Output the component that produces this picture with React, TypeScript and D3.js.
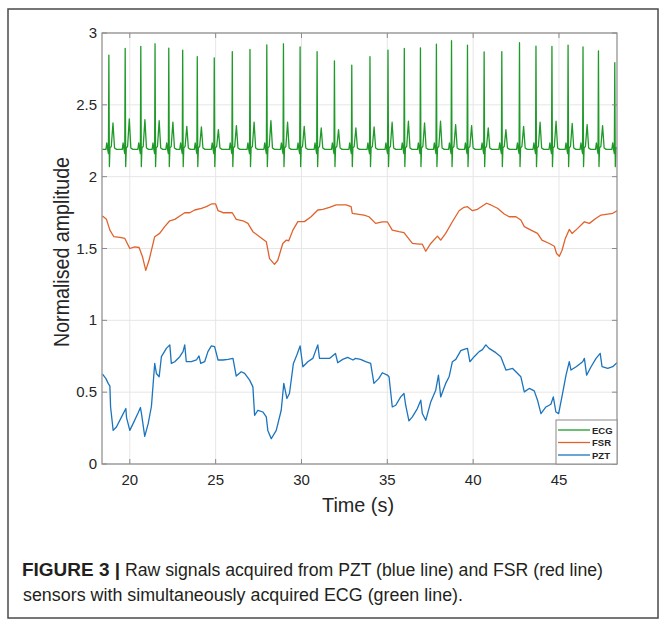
import React from "react";
import * as d3 from "d3";

// ---------- DATA ----------
const xTicks = [20, 25, 30, 35, 40, 45];
const yTicks = [0, 0.5, 1, 1.5, 2, 2.5, 3];
const yTickLabels = ["0", "0.5", "1", "1.5", "2", "2.5", "3"];

// ECG: beat (R-peak) times, R-peak amplitudes and T-wave amplitudes
const ecgBeatTimes = [18.78, 19.73, 20.64, 21.47, 22.27, 23.08, 23.93, 24.92, 25.97, 27.0, 27.98, 28.95, 29.92, 30.91, 31.92, 32.93,
  33.99, 35.04, 35.99, 36.93, 37.86, 38.74, 39.67, 40.64, 41.67, 42.7, 43.66, 44.59, 45.53, 46.4, 47.3, 48.25];
const ecgRPeaks = [2.846, 2.893, 2.907, 2.925, 2.895, 2.881, 2.836, 2.827, 2.871, 2.886, 2.918, 2.925, 2.904, 2.871, 2.806, 2.776,
  2.836, 2.881, 2.893, 2.897, 2.923, 2.946, 2.916, 2.869, 2.871, 2.932, 2.909, 2.907, 2.916, 2.904, 2.876, 2.794];
const ecgTWaves = [2.374, 2.402, 2.397, 2.39, 2.38, 2.35, 2.346, 2.327, 2.355, 2.38, 2.39, 2.379, 2.35, 2.339, 2.327, 2.339,
  2.346, 2.379, 2.386, 2.374, 2.386, 2.362, 2.355, 2.339, 2.327, 2.35, 2.379, 2.386, 2.37, 2.362, 2.355, 2.346];
// beat morphology (time offset from R, amplitude); null = take R / T values
const ecgShapeDt = [-0.17, -0.12, -0.07, -0.025, 0, 0.03, 0.065, 0.14, 0.24, 0.33, 0.45];
const ecgShapeV: (number | null)[] = [2.19, 2.235, 2.19, 2.16, null, 2.07, 2.2, 2.21, null, 2.2, 2.19];
const ecgStart = [18.4, 2.19];
const ecgEnd = [48.4, 2.2];

const fsrT = [18.41, 18.64, 18.84, 19.07, 19.42, 19.71, 20.0, 20.29, 20.54, 20.74, 20.93, 21.12, 21.45, 21.74, 22.03, 22.33, 22.62, 22.91,
  23.2, 23.49, 23.78, 24.17, 24.46, 24.75, 25.0, 25.14, 25.43, 25.72, 25.97, 26.2, 26.59, 26.88, 27.17, 27.56, 27.95, 28.14, 28.43, 28.62,
  28.91, 29.11, 29.26, 29.5, 29.79, 30.17, 30.56, 30.95, 31.24, 31.63, 32.02, 32.6, 32.89, 32.96, 33.25, 33.64, 33.93, 34.32, 34.71, 35.0,
  35.29, 35.68, 35.97, 36.46, 36.85, 37.04, 37.24, 37.53, 37.92, 38.11, 38.4, 38.79, 39.18, 39.47, 39.67, 39.96, 40.25, 40.54, 40.78, 41.03,
  41.42, 41.81, 42.1, 42.49, 42.78, 42.98, 43.37, 43.75, 44.01, 44.44, 44.73, 44.86, 45.02, 45.18, 45.37, 45.6, 45.76, 46.09, 46.48, 46.77,
  47.16, 47.45, 47.84, 48.13, 48.38];
const fsrV = [1.726, 1.703, 1.628, 1.582, 1.577, 1.57, 1.5, 1.512, 1.507, 1.442, 1.348, 1.418, 1.582, 1.605, 1.652, 1.693, 1.703, 1.726,
  1.749, 1.749, 1.768, 1.78, 1.791, 1.81, 1.81, 1.763, 1.749, 1.749, 1.749, 1.703, 1.693, 1.675, 1.617, 1.582, 1.547, 1.43, 1.39, 1.418,
  1.535, 1.558, 1.554, 1.628, 1.687, 1.687, 1.721, 1.768, 1.773, 1.787, 1.803, 1.803, 1.791, 1.745, 1.74, 1.733, 1.721, 1.675, 1.686, 1.686,
  1.628, 1.617, 1.61, 1.535, 1.53, 1.53, 1.481, 1.535, 1.586, 1.558, 1.605, 1.686, 1.763, 1.787, 1.791, 1.763, 1.773, 1.796, 1.815, 1.803,
  1.78, 1.74, 1.721, 1.721, 1.698, 1.652, 1.628, 1.605, 1.558, 1.535, 1.516, 1.465, 1.446, 1.488, 1.57, 1.633, 1.605, 1.64, 1.686, 1.675,
  1.71, 1.733, 1.74, 1.745, 1.763];

const pztT = [18.41, 18.6, 18.74, 18.84, 18.88, 19.03, 19.22, 19.52, 19.77, 19.81, 20.0, 20.19, 20.48, 20.62, 20.68, 20.87, 21.07, 21.26,
  21.45, 21.55, 21.71, 21.84, 22.13, 22.33, 22.42, 22.62, 22.91, 23.1, 23.2, 23.29, 23.59, 23.88, 24.03, 24.13, 24.36, 24.55, 24.75, 24.94,
  25.14, 25.43, 25.72, 26.01, 26.2, 26.49, 26.69, 26.98, 27.17, 27.27, 27.46, 27.75, 27.95, 28.04, 28.24, 28.53, 28.82, 28.97, 29.15, 29.3,
  29.53, 29.73, 29.92, 30.08, 30.37, 30.66, 30.95, 31.05, 31.34, 31.63, 31.98, 32.11, 32.4, 32.69, 33.0, 33.15, 33.44, 33.74, 34.03, 34.22,
  34.51, 34.71, 35.0, 35.1, 35.29, 35.49, 35.78, 35.97, 36.07, 36.26, 36.46, 36.75, 36.95, 37.04, 37.24, 37.53, 37.82, 37.98, 38.11, 38.4,
  38.6, 38.79, 38.99, 39.28, 39.47, 39.67, 39.81, 40.06, 40.35, 40.54, 40.74, 40.93, 41.32, 41.61, 41.91, 42.3, 42.49, 42.78, 42.98, 43.27,
  43.56, 43.75, 43.95, 44.24, 44.53, 44.67, 44.82, 44.98, 45.21, 45.41, 45.6, 45.7, 46.0, 46.38, 46.48, 46.61, 46.87, 47.16, 47.4, 47.51,
  47.84, 48.13, 48.38];
const pztV = [0.626, 0.596, 0.561, 0.542, 0.397, 0.234, 0.258, 0.328, 0.386, 0.323, 0.234, 0.281, 0.355, 0.393, 0.351, 0.192, 0.281, 0.402,
  0.7, 0.63, 0.607, 0.747, 0.805, 0.829, 0.7, 0.712, 0.747, 0.782, 0.829, 0.712, 0.712, 0.724, 0.752, 0.7, 0.712, 0.782, 0.822, 0.817,
  0.724, 0.724, 0.728, 0.735, 0.612, 0.642, 0.631, 0.584, 0.537, 0.339, 0.374, 0.362, 0.328, 0.234, 0.176, 0.234, 0.374, 0.561, 0.456, 0.491,
  0.7, 0.759, 0.822, 0.677, 0.712, 0.735, 0.829, 0.735, 0.735, 0.735, 0.77, 0.705, 0.728, 0.742, 0.724, 0.735, 0.728, 0.712, 0.7, 0.561,
  0.596, 0.635, 0.619, 0.607, 0.397, 0.409, 0.467, 0.491, 0.409, 0.3, 0.328, 0.386, 0.444, 0.351, 0.304, 0.432, 0.514, 0.619, 0.467, 0.561,
  0.607, 0.712, 0.728, 0.789, 0.798, 0.805, 0.712, 0.747, 0.782, 0.796, 0.829, 0.805, 0.775, 0.747, 0.654, 0.665, 0.642, 0.607, 0.502, 0.526,
  0.509, 0.444, 0.351, 0.397, 0.416, 0.467, 0.362, 0.351, 0.491, 0.619, 0.712, 0.654, 0.677, 0.712, 0.735, 0.619, 0.677, 0.735, 0.77, 0.677,
  0.665, 0.677, 0.705];

const legendItems = ["ECG", "FSR", "PZT"];
const seriesColors = ["#1f9a29", "#e0622c", "#1b74bd"];

// ---------- LAYOUT ----------
const W = 659, H = 621;
const M = { left: 102, right: 617, top: 33, bottom: 464 };
const FONT = "'Liberation Sans', Arial, Helvetica, sans-serif";

export default function App() {
  const x = d3.scaleLinear().domain([18.38, 48.38]).range([M.left, M.right]);
  const y = d3.scaleLinear().domain([0, 3]).range([M.bottom, M.top]);
  const line = d3.line<[number, number]>().x((d) => x(d[0])).y((d) => y(d[1]));

  const ecgPts: [number, number][] = [[ecgStart[0], ecgStart[1]]];
  ecgBeatTimes.forEach((tb, i) => {
    ecgShapeDt.forEach((dt, k) => {
      const t = tb + dt;
      if (t < x.domain()[0] || t > x.domain()[1]) return;
      let v = ecgShapeV[k];
      if (v === null) v = k === 4 ? ecgRPeaks[i] : ecgTWaves[i];
      ecgPts.push([t, v as number]);
    });
  });
  ecgPts.push([ecgEnd[0], ecgEnd[1]]);
  const fsrPts: [number, number][] = fsrT.map((t, i) => [t, fsrV[i]]);
  const pztPts: [number, number][] = pztT.map((t, i) => [t, pztV[i]]);
  const paths = [ecgPts, fsrPts, pztPts];

  const axisColor = "#8a8a8a";
  const lg = { x0: 556, y0: 420, x1: M.right, y1: M.bottom };

  return (
    <svg width={W} height={H} style={{ position: "absolute", left: 0, top: 0, background: "#fff" }} fontFamily={FONT}>
      <rect x={0} y={0} width={W} height={H} fill="#fff" />
      {/* outer frame */}
      <rect x={8} y={9} width={650} height={609} fill="none" stroke="#4a4a4a" strokeWidth={1.5} />
      <defs>
        <clipPath id="plotclip">
          <rect x={M.left} y={M.top} width={M.right - M.left} height={M.bottom - M.top} />
        </clipPath>
      </defs>
      {/* grid */}
      {xTicks.map((t) => (
        <line key={"gx" + t} x1={x(t)} x2={x(t)} y1={M.top} y2={M.bottom} stroke="#e6e6e6" strokeWidth={1} />
      ))}
      {yTicks.map((t) => (
        <line key={"gy" + t} x1={M.left} x2={M.right} y1={y(t)} y2={y(t)} stroke="#e6e6e6" strokeWidth={1} />
      ))}
      {/* series */}
      <g clipPath="url(#plotclip)">
        {paths.map((p, i) => (
          <path key={i} d={line(p) || ""} fill="none" stroke={seriesColors[i]} strokeWidth={1.3} strokeLinejoin="round" />
        ))}
      </g>
      {/* axes box */}
      <rect x={M.left} y={M.top} width={M.right - M.left} height={M.bottom - M.top} fill="none" stroke={axisColor} strokeWidth={1.2} />
      {xTicks.map((t) => (
        <g key={"tx" + t}>
          <line x1={x(t)} x2={x(t)} y1={M.bottom} y2={M.bottom - 5} stroke={axisColor} />
          <line x1={x(t)} x2={x(t)} y1={M.top} y2={M.top + 5} stroke={axisColor} />
          <text x={x(t)} y={485} textAnchor="middle" fontSize={15} fill="#262626">{t}</text>
        </g>
      ))}
      {yTicks.map((t, i) => (
        <g key={"ty" + t}>
          <line x1={M.left} x2={M.left + 5} y1={y(t)} y2={y(t)} stroke={axisColor} />
          <line x1={M.right} x2={M.right - 5} y1={y(t)} y2={y(t)} stroke={axisColor} />
          <text x={97} y={y(t) + 5} textAnchor="end" fontSize={15} fill="#262626">{yTickLabels[i]}</text>
        </g>
      ))}
      {/* axis titles */}
      <text x={358} y={512} textAnchor="middle" fontSize={20} fill="#262626" textLength={72} lengthAdjust="spacingAndGlyphs">Time (s)</text>
      <text transform={`translate(68.5,252) rotate(-90)`} textAnchor="middle" fontSize={21.5} fill="#262626"
        textLength={190} lengthAdjust="spacingAndGlyphs">Normalised amplitude</text>
      {/* legend */}
      <rect x={lg.x0} y={lg.y0} width={lg.x1 - lg.x0} height={lg.y1 - lg.y0} fill="#fff" stroke={axisColor} strokeWidth={1} />
      {legendItems.map((name, i) => {
        const yy = 430 + i * 12.5;
        return (
          <g key={name}>
            <line x1={558} x2={590} y1={yy} y2={yy} stroke={seriesColors[i]} strokeWidth={1.3} />
            <text x={592} y={yy + 3.5} fontSize={9.5} fontWeight="bold" fill="#262626">{name}</text>
          </g>
        );
      })}
      {/* caption */}
      <text x={22} y={576} fontSize={17.5} fontWeight="bold" fill="#231f20" textLength={98} lengthAdjust="spacingAndGlyphs">FIGURE 3 |</text>
      <text x={125} y={576} fontSize={17.5} fill="#231f20" textLength={478} lengthAdjust="spacingAndGlyphs">Raw signals acquired from PZT (blue line) and FSR (red line)</text>
      <text x={23} y={601} fontSize={17.5} fill="#231f20" textLength={440} lengthAdjust="spacingAndGlyphs">sensors with simultaneously acquired ECG (green line).</text>
    </svg>
  );
}
